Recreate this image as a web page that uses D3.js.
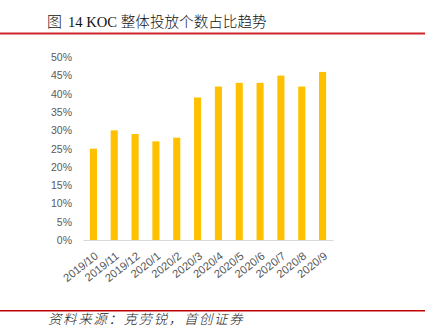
<!DOCTYPE html>
<html><head><meta charset="utf-8">
<script src="https://cdn.jsdelivr.net/npm/d3@7/dist/d3.min.js"></script>
<style>body{margin:0;background:#fff}svg{display:block}</style>
</head><body><svg id="c" width="431" height="331"></svg>
<script>
const categories = ["2019/10","2019/11","2019/12","2020/1","2020/2","2020/3","2020/4","2020/5","2020/6","2020/7","2020/8","2020/9"];
const values = [25,30,29,27,28,39,42,43,43,45,42,46];
const yTicks = [0,5,10,15,20,25,30,35,40,45,50];
const titleText = "14 KOC 整体投放个数占比趋势";
const sourceText = "资料来源：克劳锐，首创证券";

const svg = d3.select("#c");
const pLeft = 83, pRight = 333, pTop = 57.3, pBottom = 240;
const x = d3.scaleBand().domain(categories).range([pLeft, pRight]).paddingInner(0.66).paddingOuter(0.33);
const y = d3.scaleLinear().domain([0,50]).range([pBottom, pTop]);

// title
svg.append("text").attr("x",47).attr("y",27).attr("font-family","'Noto Sans CJK SC'").attr("font-weight",300).attr("font-size",15).attr("fill","#111").text("图");
svg.append("text").attr("x",68).attr("y",27).attr("font-family","'Liberation Serif','Noto Sans CJK SC'").attr("font-weight",300).attr("font-size",14.6).attr("fill","#111").text(titleText);
svg.append("rect").attr("x",0).attr("y",32.5).attr("width",425).attr("height",2).attr("fill","#d0262b");

// y axis labels
const yAxis = d3.axisLeft(y).tickValues(yTicks).tickFormat(d=>d+"%").tickSize(0).tickPadding(11);
const gy = svg.append("g").attr("transform",`translate(${pLeft},0)`).call(yAxis);
gy.select(".domain").remove();
gy.selectAll("text").attr("font-family","'Liberation Sans',Arial,sans-serif").attr("font-size",10.5).attr("fill","#595959");

// bars
svg.append("g").selectAll("rect").data(values).join("rect")
  .attr("x",(d,i)=>x(categories[i])).attr("width",x.bandwidth())
  .attr("y",d=>y(d)).attr("height",d=>pBottom-y(d)).attr("fill","#ffc000");

// x axis
const xAxis = d3.axisBottom(x).tickSize(0).tickPadding(6);
const gx = svg.append("g").attr("transform",`translate(0,${pBottom})`).call(xAxis);
gx.select(".domain").attr("stroke","#d9d9d9").attr("stroke-width",1);
gx.selectAll("text").attr("font-family","'Liberation Sans',Arial,sans-serif").attr("font-size",11.2).attr("fill","#595959")
  .attr("x",0).attr("y",0).attr("text-anchor","end").attr("dy","0")
  .attr("transform","translate(5.5,17.5) rotate(-38)");

// footer
svg.append("rect").attr("x",0).attr("y",310).attr("width",425).attr("height",1.5).attr("fill","#c00000");
svg.append("text").attr("x",48).attr("y",324).attr("font-family","'Noto Sans CJK SC'").attr("font-weight",300).attr("font-size",13.5).attr("font-style","italic").attr("letter-spacing",1.6).attr("fill","#222").text(sourceText);
</script></body></html>
